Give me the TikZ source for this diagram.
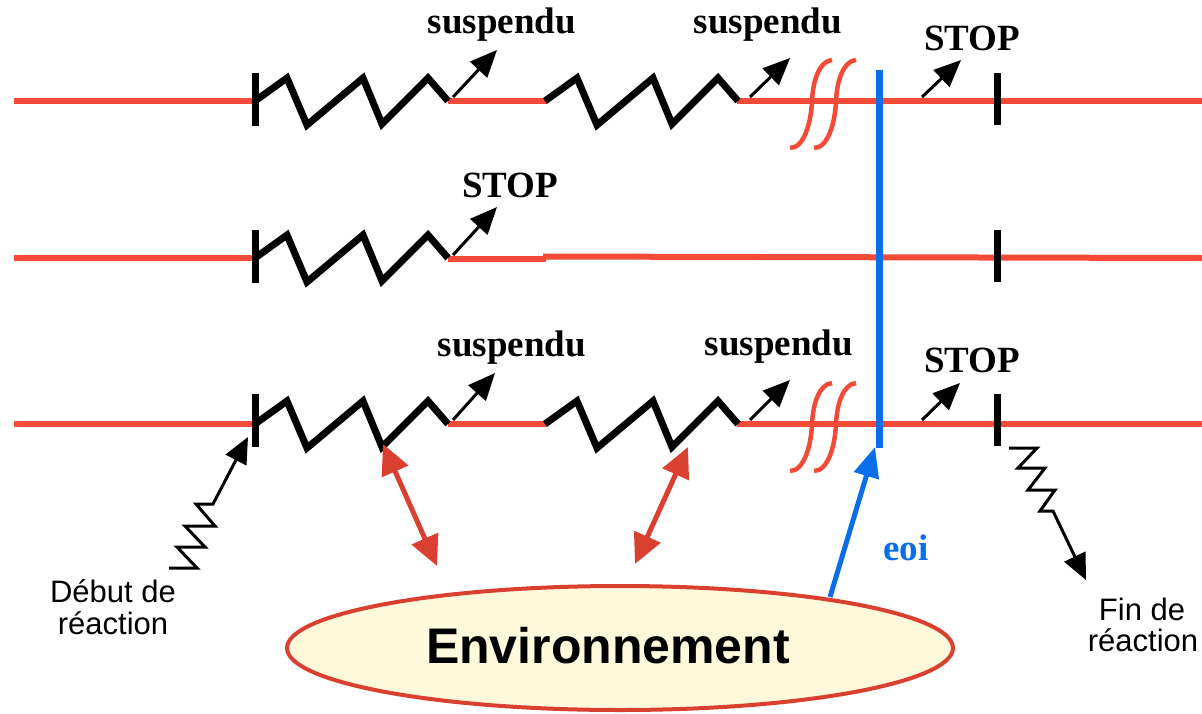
\documentclass[tikz,border=0pt]{standalone}
\usepackage{fontspec}
\setmainfont{Liberation Serif}
\setsansfont{Liberation Sans}
\usetikzlibrary{arrows.meta}
\definecolor{chainred}{RGB}{244,74,56}
\definecolor{envred}{RGB}{217,64,48}
\definecolor{eoiblue}{RGB}{10,110,235}
\definecolor{envfill}{RGB}{255,249,220}

% one reaction step: a zigzag starting at (#1,#2)
\newcommand\reactzig[2]{%
  \draw[zz] (#1,#2) -- ++(32,-23) -- ++(20,47) -- ++(56,-47) -- ++(19,46) -- ++(46,-46) -- ++(20,23);}
% a break mark centred at (#1,#2)
\newcommand\breakmark[2]{%
  \draw[brk,shift={(#1,#2)}] (20,-41) .. controls (8,-40) and (1,-22) .. (0,0)
        .. controls (-1,22) and (-8,47) .. (-22,47);}

\begin{document}
\begin{tikzpicture}[x=1pt,y=-1pt,
  chain/.style={draw=chainred,line width=6pt},
  zz/.style={draw=black,line width=7pt,line join=miter},
  tickmark/.style={draw=black,line width=7pt},
  brk/.style={draw=chainred,line width=4.5pt},
  state/.style={draw=black,line width=3pt,-{Triangle[length=27pt,width=23pt]}},
  squig/.style={draw=black,line width=3pt,line join=miter,-{Triangle[length=26pt,width=23pt]}},
  exch/.style={draw=envred,line width=5pt,{Triangle[length=30pt,width=28pt]}-{Triangle[length=30pt,width=28pt]}},
  lbl/.style={font=\fontsize{37}{44}\selectfont\bfseries,anchor=base,inner sep=0pt},
  side/.style={font=\sffamily\fontsize{31}{34}\selectfont,anchor=base,inner sep=0pt}]
\useasboundingbox (0,0) rectangle (1202,713);

% ---- reaction lines ----
\draw[chain] (14,101) -- (255,101);
\draw[chain] (448,101) -- (547,101);
\draw[chain] (737,101) -- (1202,101);

\draw[chain] (14,258) -- (255,258);
\draw[chain] (448,258.5) -- (546,258.5);
\draw[chain] (543,256.5) -- (1202,258);

\draw[chain] (14,424) -- (255,424);
\draw[chain] (448,424) -- (547,424);
\draw[chain] (737,424) -- (1202,424);

% ---- break marks ----
\breakmark{812}{101}
\breakmark{836}{101}
\breakmark{812}{424}
\breakmark{836}{424}

% ---- start and end ticks ----
\foreach \y in {100,257,421}{
  \draw[tickmark] (255,\y-27) -- (255,\y+26);
  \draw[tickmark] (997,\y-27) -- (997,\y+25);
}

% ---- reaction steps ----
\reactzig{255}{101}
\reactzig{545}{101}
\reactzig{255}{258}
\reactzig{255}{424}
\reactzig{545}{424}

% ---- end-of-interaction line ----
\draw[draw=eoiblue,line width=7pt] (879,70) -- (879,448);

% ---- state arrows and labels ----
\coordinate (t1) at (453,97);  \coordinate (h1) at (497,50);
\coordinate (t2) at (750,97);  \coordinate (h2) at (790,58);
\coordinate (t3) at (922,97);  \coordinate (h3) at (961,60);
\coordinate (t4) at (453,255); \coordinate (h4) at (497,207);
\coordinate (t5) at (453,420); \coordinate (h5) at (495,373);
\coordinate (t6) at (750,420); \coordinate (h6) at (790,380);
\coordinate (t7) at (922,420); \coordinate (h7) at (960,383);
\foreach \i in {1,...,7}{\draw[state] (t\i) -- (h\i);}

\node[lbl] (s1) at (502,33) {suspendu};
\node[lbl] (s2) at (768,33) {suspendu};
\node[lbl] (p1) at (972,50) {STOP};
\node[lbl] (p2) at (510,197) {STOP};
\node[lbl] (s3) at (512,356) {suspendu};
\node[lbl] (s4) at (779,355) {suspendu};
\node[lbl] (p3) at (972,372) {STOP};

% ---- environment ----
\filldraw[draw=envred,fill=envfill,line width=4pt] (620,648) ellipse [x radius=333, y radius=62];
\node[font=\sffamily\bfseries\fontsize{50}{58}\selectfont,anchor=base,inner sep=0pt] (env) at (608,663) {Environnement};

\coordinate (e1a) at (383,444); \coordinate (e1b) at (437,566);
\coordinate (e2a) at (688,447); \coordinate (e2b) at (635,564);
\draw[exch] (e1a) -- (e1b);
\draw[exch] (e2a) -- (e2b);

\coordinate (eoiTail) at (830,597);
\coordinate (eoiTip) at (875,447);
\draw[draw=eoiblue,line width=5pt,-{Triangle[length=30pt,width=25pt]}] (eoiTail) -- (eoiTip);
\node[lbl,text=eoiblue] (eoi) at (906,560) {eoi};

% ---- start of reaction ----
\coordinate (startA) at (169,568);
\coordinate (startTip) at (248,437);
\draw[squig] (startA) -- (197,568) -- (177,547) -- (205,547) -- (185,526)
  -- (215,526) -- (196,504) -- (213,504) -- (startTip);
\node[side] (d1) at (113,602) {Début de};
\node[side] (d2) at (113,634) {réaction};

% ---- end of reaction ----
\coordinate (endA) at (1009,448);
\coordinate (endTip) at (1086,580);
\draw[squig] (endA) -- (1037,448) -- (1018,468) -- (1045,468) -- (1028,490)
  -- (1055,490) -- (1040,511) -- (1053,511) -- (endTip);
\node[side] (f1) at (1142,620) {Fin de};
\node[side] (f2) at (1143,651) {réaction};
\end{tikzpicture}
\end{document}
